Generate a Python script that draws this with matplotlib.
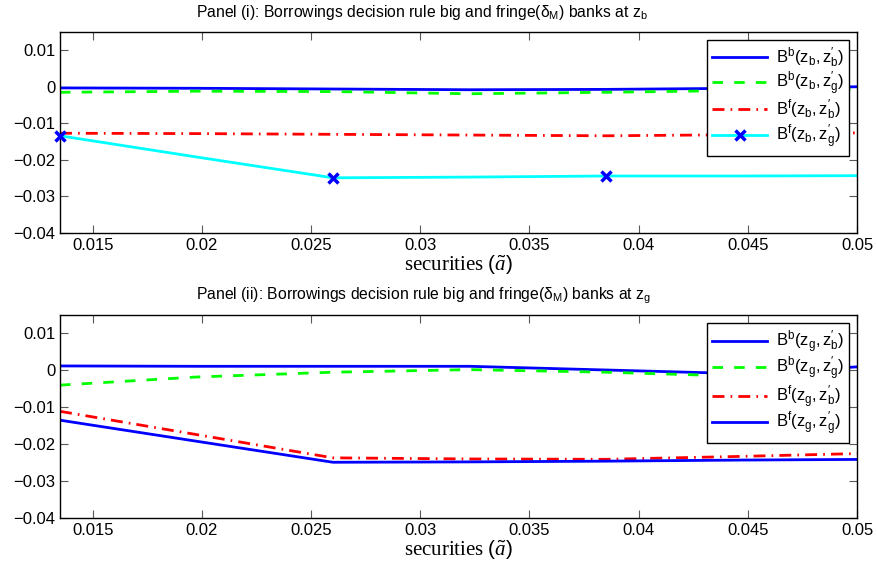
import matplotlib
matplotlib.use("Agg")
import matplotlib.pyplot as plt
from matplotlib.lines import Line2D

plt.rcParams['font.family'] = ['Liberation Sans', 'DejaVu Sans']
plt.rcParams['mathtext.fontset'] = 'custom'
plt.rcParams['mathtext.rm'] = 'Liberation Serif'
plt.rcParams['mathtext.it'] = 'Liberation Serif:italic'
plt.rcParams['mathtext.sf'] = 'Liberation Sans'
plt.rcParams['mathtext.default'] = 'sf'

# ---------------- data ----------------
securities = [0.0135, 0.01975, 0.026, 0.03225, 0.0385, 0.04475, 0.051]

# Panel (i): at z_b
bb_zb_zb = [-0.0003, -0.0004, -0.0006, -0.0008, -0.0007, -0.0004, 0.0001]
bb_zb_zg = [-0.0015, -0.0012, -0.0013, -0.0019, -0.0015, -0.0010, -0.0005]
bf_zb_zb = [-0.0127, -0.0128, -0.0130, -0.0132, -0.0134, -0.0131, -0.0125]
bf_zb_zg = [-0.0134, -0.0192, -0.0249, -0.0247, -0.0244, -0.0244, -0.0243]

# Panel (ii): at z_g
bb_zg_zb = [0.0012, 0.0011, 0.0011, 0.0011, 0.0001, -0.0009, 0.0013]
bb_zg_zg = [-0.0040, -0.0018, -0.0005, 0.0002, -0.0005, -0.0016, -0.0008]
bf_zg_zb = [-0.0111, -0.0174, -0.0237, -0.0240, -0.0241, -0.0233, -0.0224]
bf_zg_zg = [-0.0135, -0.0192, -0.0249, -0.0248, -0.0246, -0.0243, -0.0241]

labels_i = [r"$B^b(z_b,z^{\prime}_b)$", r"$B^b(z_b,z^{\prime}_g)$",
            r"$B^f(z_b,z^{\prime}_b)$", r"$B^f(z_b,z^{\prime}_g)$"]
labels_ii = [r"$B^b(z_g,z^{\prime}_b)$", r"$B^b(z_g,z^{\prime}_g)$",
             r"$B^f(z_g,z^{\prime}_b)$", r"$B^f(z_g,z^{\prime}_g)$"]

title_i = r"Panel (i): Borrowings decision rule big and fringe($\delta_M$) banks at $z_b$"
title_ii = r"Panel (ii): Borrowings decision rule big and fringe($\delta_M$) banks at $z_g$"
xlabel = r"$\mathrm{securities}\ (\tilde{\mathit{a}})$"

xticks = [0.015, 0.02, 0.025, 0.03, 0.035, 0.04, 0.045, 0.05]
xticklabels = ["0.015", "0.02", "0.025", "0.03", "0.035", "0.04", "0.045", "0.05"]
yticks = [-0.04, -0.03, -0.02, -0.01, 0.0, 0.01]
yticklabels = ["\u22120.04", "\u22120.03", "\u22120.02", "\u22120.01", "0", "0.01"]
xlim = (0.0135, 0.05)
ylim = (-0.04, 0.015)

# ---------------- styles ----------------
LW = 2.0
blue, green, red, cyan = "#0000ff", "#00ff00", "#ff0000", "#00ffff"
dash = (0, (3.8, 4.0))
dashdot = (0, (4.3, 2.2, 0.6, 2.2))

fig = plt.figure(figsize=(8.78, 5.63), dpi=100)
ax1 = fig.add_axes([60/878, 1-233/563, 797/878, 201/563])
ax2 = fig.add_axes([60/878, 1-518/563, 797/878, 203/563])


def style(ax):
    ax.set_xlim(*xlim)
    ax.set_ylim(*ylim)
    ax.set_xticks(xticks)
    ax.set_xticklabels(xticklabels)
    ax.set_yticks(yticks)
    ax.set_yticklabels(yticklabels)
    ax.tick_params(direction='in', top=True, right=True, length=5.5, width=0.8,
                   color='0.35', labelsize=12, pad=3.5)
    for s in ax.spines.values():
        s.set_linewidth(1.0)
        s.set_color('black')
    ax.set_xlabel(xlabel, fontsize=15, labelpad=0)


def legend(ax, handles, labels):
    leg = ax.legend(handles, labels, loc='upper right', fontsize=12,
                    handlelength=3.3, labelspacing=0.0, fancybox=False,
                    framealpha=1, edgecolor='black', borderaxespad=0.5,
                    handletextpad=0.5, borderpad=0.3)
    leg.get_frame().set_linewidth(1.0)
    return leg


# Panel (i)
ax1.plot(securities, bb_zb_zb, color=blue, lw=LW)
ax1.plot(securities, bb_zb_zg, color=green, lw=LW, linestyle=dash)
ax1.plot(securities, bf_zb_zb, color=red, lw=LW, linestyle=dashdot)
ax1.plot(securities, bf_zb_zg, color=cyan, lw=LW)
mk_x = [x for x in securities[::2] if x <= xlim[1]]
mk_y = [y for x, y in zip(securities[::2], bf_zb_zg[::2]) if x <= xlim[1]]
ax1.plot(mk_x, mk_y, linestyle='none', marker='x', color=blue, ms=7.5,
         mew=2.5, clip_on=False, zorder=5)
style(ax1)
h1 = [Line2D([], [], color=blue, lw=LW),
      Line2D([], [], color=green, lw=LW, linestyle=dash),
      Line2D([], [], color=red, lw=LW, linestyle=dashdot),
      Line2D([], [], color=cyan, lw=LW, marker='x', mec=blue, mfc=blue,
             ms=7.5, mew=2.5)]
legend(ax1, h1, labels_i)

# Panel (ii)
ax2.plot(securities, bb_zg_zb, color=blue, lw=LW)
ax2.plot(securities, bb_zg_zg, color=green, lw=LW, linestyle=dash)
ax2.plot(securities, bf_zg_zb, color=red, lw=LW, linestyle=dashdot)
ax2.plot(securities, bf_zg_zg, color=blue, lw=LW)
style(ax2)
h2 = [Line2D([], [], color=blue, lw=LW),
      Line2D([], [], color=green, lw=LW, linestyle=dash),
      Line2D([], [], color=red, lw=LW, linestyle=dashdot),
      Line2D([], [], color=blue, lw=LW)]
legend(ax2, h2, labels_ii)

fig.text(422/878, 1-13/563, title_i, ha='center', va='center', fontsize=11.3)
fig.text(424/878, 1-296/563, title_ii, ha='center', va='center', fontsize=11.3)

fig.savefig("out.png", dpi=100)
